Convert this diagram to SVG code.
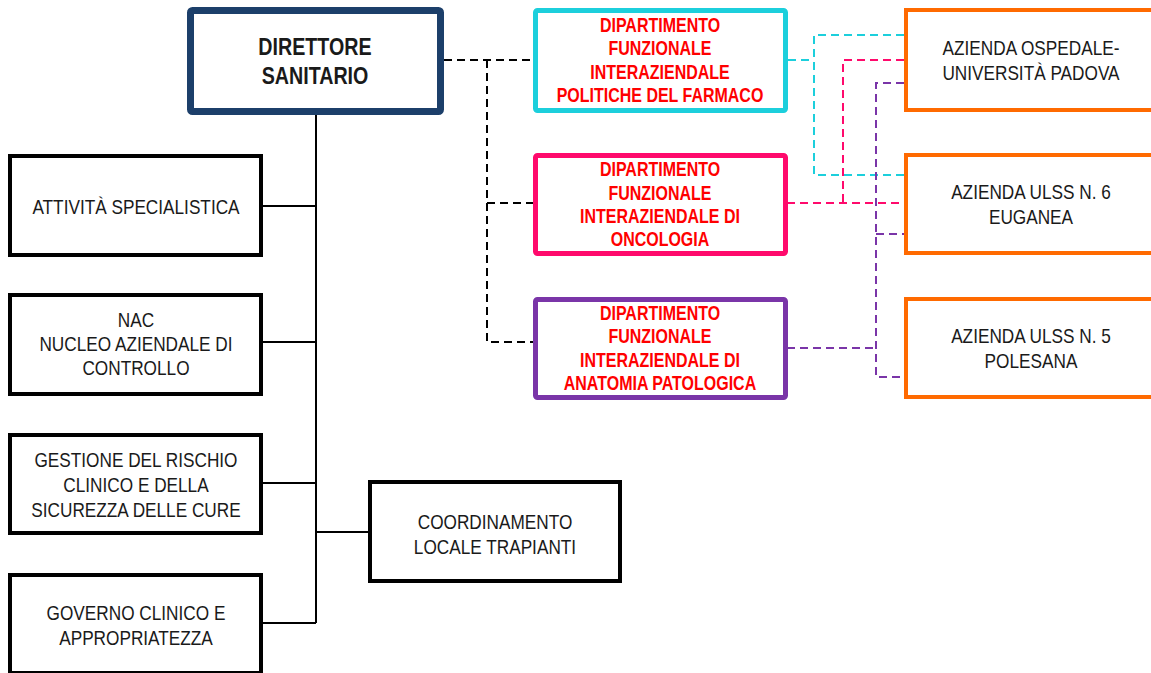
<svg xmlns="http://www.w3.org/2000/svg" width="1151" height="673" viewBox="0 0 1151 673">
<style>
text{font-family:"Liberation Sans",Arial,sans-serif;text-anchor:middle}
.n{font-size:21px;fill:#1a1a1a}
.b{font-size:19.5px;font-weight:bold;fill:#ff0000}
.h{font-size:24px;font-weight:bold;fill:#1a1a1a}
.blk{fill:#fff;stroke:#000;stroke-width:4}
.org{fill:#fff;stroke:#ff6a00;stroke-width:4}
.sol{fill:none;stroke:#000;stroke-width:2}
.dsh{fill:none;stroke-width:2;stroke-dasharray:8 5}
</style>
<rect width="1151" height="673" fill="#fff"/>
<g id="connectors">
<path class="sol" d="M316,114V623M263,206H316M263,342H316M263,483H316M263,623H316M316,532H368"/>
<path class="dsh" stroke="#000" stroke-width="2.5" stroke-dasharray="7 4" d="M444,60H533M487,60V342H533M487,203H533"/>
<path class="dsh" stroke="#1ccfdc" d="M788,60H814M904,35H814V175H904"/>
<path class="dsh" stroke="#ff0a6c" d="M787,203H904M904,60H843V203"/>
<path class="dsh" stroke="#7a35a8" d="M787,348H876M904,83H876V377H904M876,234H904"/>
</g>
<g id="direttore">
<rect x="190.5" y="10.5" width="250" height="101" fill="#fff" stroke="#1c3f6a" stroke-width="7" rx="2"/>
<g transform="matrix(0.82 0 0 1 56.7 0)">
<text class="h" x="315" y="55">DIRETTORE</text>
<text class="h" x="315" y="84">SANITARIO</text>
</g>
</g>
<g id="dip-farmaco">
<rect x="535.5" y="10.5" width="250" height="100" fill="#fff" stroke="#1ccfdc" stroke-width="5" rx="2"/>
<g transform="matrix(0.82 0 0 1 118.8 0)">
<text class="b" x="660" y="32">DIPARTIMENTO</text>
<text class="b" x="660" y="55">FUNZIONALE</text>
<text class="b" x="660" y="79">INTERAZIENDALE</text>
<text class="b" x="660" y="102">POLITICHE DEL FARMACO</text>
</g>
</g>
<g id="dip-oncologia">
<rect x="535.5" y="155.5" width="250" height="98" fill="#fff" stroke="#ff0a6c" stroke-width="5" rx="2"/>
<g transform="matrix(0.82 0 0 1 118.8 0)">
<text class="b" x="660" y="176">DIPARTIMENTO</text>
<text class="b" x="660" y="200">FUNZIONALE</text>
<text class="b" x="660" y="223">INTERAZIENDALE DI</text>
<text class="b" x="660" y="246">ONCOLOGIA</text>
</g>
</g>
<g id="dip-anatomia">
<rect x="535.5" y="299.5" width="250" height="98" fill="#fff" stroke="#7a35a8" stroke-width="5" rx="2"/>
<g transform="matrix(0.82 0 0 1 118.8 0)">
<text class="b" x="660" y="320">DIPARTIMENTO</text>
<text class="b" x="660" y="343">FUNZIONALE</text>
<text class="b" x="660" y="367">INTERAZIENDALE DI</text>
<text class="b" x="660" y="390">ANATOMIA PATOLOGICA</text>
</g>
</g>
<g id="ao-padova">
<rect class="org" x="906" y="10" width="250" height="100"/>
<g transform="matrix(0.82 0 0 1 185.58 0)">
<text class="n" x="1031" y="55">AZIENDA OSPEDALE-</text>
<text class="n" x="1031" y="80">UNIVERSITÀ PADOVA</text>
</g>
</g>
<g id="ulss6">
<rect class="org" x="906" y="155" width="250" height="98"/>
<g transform="matrix(0.82 0 0 1 185.58 0)">
<text class="n" x="1031" y="199">AZIENDA ULSS N. 6</text>
<text class="n" x="1031" y="224">EUGANEA</text>
</g>
</g>
<g id="ulss5">
<rect class="org" x="906" y="299" width="250" height="98"/>
<g transform="matrix(0.82 0 0 1 185.58 0)">
<text class="n" x="1031" y="343">AZIENDA ULSS N. 5</text>
<text class="n" x="1031" y="368">POLESANA</text>
</g>
</g>
<g id="attivita">
<rect class="blk" x="10" y="156" width="251" height="99"/>
<g transform="matrix(0.82 0 0 1 24.48 0)">
<text class="n" x="136" y="214">ATTIVITÀ SPECIALISTICA</text>
</g>
</g>
<g id="nac">
<rect class="blk" x="10" y="295" width="251" height="99"/>
<g transform="matrix(0.82 0 0 1 24.48 0)">
<text class="n" x="136" y="327">NAC</text>
<text class="n" x="136" y="351">NUCLEO AZIENDALE DI</text>
<text class="n" x="136" y="375">CONTROLLO</text>
</g>
</g>
<g id="rischio">
<rect class="blk" x="10" y="435" width="251" height="98"/>
<g transform="matrix(0.82 0 0 1 24.48 0)">
<text class="n" x="136" y="467">GESTIONE DEL RISCHIO</text>
<text class="n" x="136" y="492">CLINICO E DELLA</text>
<text class="n" x="136" y="517">SICUREZZA DELLE CURE</text>
</g>
</g>
<g id="governo">
<rect class="blk" x="10" y="575" width="251" height="98"/>
<g transform="matrix(0.82 0 0 1 24.48 0)">
<text class="n" x="136" y="620">GOVERNO CLINICO E</text>
<text class="n" x="136" y="645">APPROPRIATEZZA</text>
</g>
</g>
<g id="trapianti">
<rect class="blk" x="370" y="482" width="250" height="99"/>
<g transform="matrix(0.82 0 0 1 89.1 0)">
<text class="n" x="495" y="529">COORDINAMENTO</text>
<text class="n" x="495" y="554">LOCALE TRAPIANTI</text>
</g>
</g>
</svg>
